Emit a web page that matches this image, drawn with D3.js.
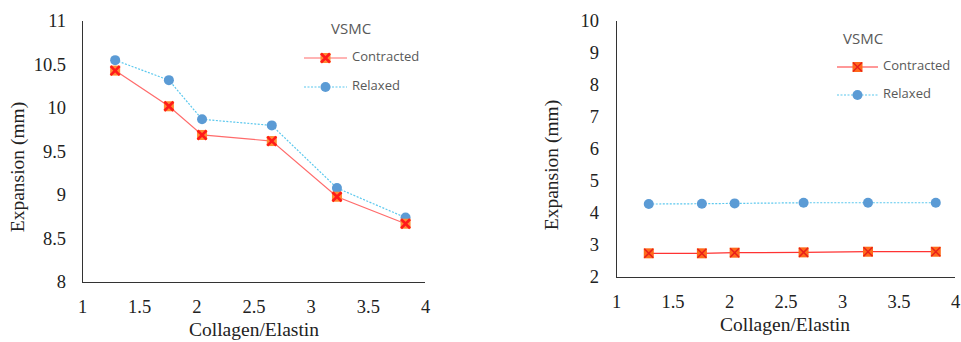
<!DOCTYPE html>
<html>
<head>
<meta charset="utf-8">
<script src="https://cdn.jsdelivr.net/npm/d3@7"></script>
<style>
  body { margin: 0; background: #fff; }
  svg { display: block; }
</style>
</head>
<body>
<svg id="chart" width="961" height="342"></svg>
<script>
// ratio values shared by both panels
const ratios = [1.29, 1.76, 2.05, 2.66, 3.23, 3.83];

// left panel
const contractedA = [10.43, 10.02, 9.69, 9.62, 8.98, 8.67];
const relaxedA    = [10.55, 10.32, 9.87, 9.80, 9.08, 8.74];
const yTicksA     = [8, 8.5, 9, 9.5, 10, 10.5, 11];

// right panel
const contractedB = [2.74, 2.74, 2.76, 2.77, 2.79, 2.79];
const relaxedB    = [4.28, 4.29, 4.30, 4.32, 4.32, 4.32];
const yTicksB     = [2, 3, 4, 5, 6, 7, 8, 9, 10];

const xTicks = [1, 1.5, 2, 2.5, 3, 3.5, 4];
const seriesNames = ['Contracted', 'Relaxed'];

const svg = d3.select('#chart');
const serif = '"Liberation Serif", "DejaVu Serif", serif';
const sans = '"Open Sans", "Noto Sans", sans-serif';

function panel(o) {
    const g = svg.append('g');
    const x = d3.scaleLinear().domain([1, 4]).range([o.left, o.right]);
    const y = d3.scaleLinear().domain(o.yDomain).range([o.bottom, o.top]);

    // axes, no tick marks
    g.append('g')
        .attr('transform', `translate(0,${o.bottom})`)
        .call(d3.axisBottom(x).tickValues(xTicks).tickSize(0).tickPadding(o.xPad).tickFormat(d3.format('')))
        .call(a => a.select('.domain').attr('stroke', '#333').attr('d', `M${o.left},0.5H${o.right}`))
        .call(a => a.selectAll('text').attr('font-family', serif).attr('font-size', 18.5).attr('fill', '#222'));

    g.append('g')
        .attr('transform', `translate(${o.left},0)`)
        .call(d3.axisLeft(y).tickValues(o.yTicks).tickSize(0).tickPadding(o.yPad).tickFormat(d3.format('')))
        .call(a => a.select('.domain').attr('stroke', '#333').attr('d', `M0.5,${o.bottom}V${o.top}`))
        .call(a => a.selectAll('text').attr('font-family', serif).attr('font-size', 18.5).attr('fill', '#222'));

    const line = d3.line().x(d => x(d[0])).y(d => y(d[1]));
    const cData = ratios.map((r, i) => [r, o.contracted[i]]);
    const rData = ratios.map((r, i) => [r, o.relaxed[i]]);

    g.append('path').datum(rData).attr('d', line)
        .attr('fill', 'none').attr('stroke', '#5bc8ee').attr('stroke-width', 1.2).attr('stroke-dasharray', '2,1.5');
    g.append('path').datum(cData).attr('d', line)
        .attr('fill', 'none').attr('stroke', o.redLine).attr('stroke-width', 1.2);

    const crossMark = (sel, cx, cy) => {
        sel.append('rect').attr('x', cx - 5).attr('y', cy - 5).attr('width', 10).attr('height', 10)
            .attr('fill', o.markFill);
        sel.append('path')
            .attr('d', `M${cx - 4.5},${cy - 4.5}L${cx + 4.5},${cy + 4.5}M${cx + 4.5},${cy - 4.5}L${cx - 4.5},${cy + 4.5}`)
            .attr('stroke', o.markCross).attr('stroke-width', o.crossW);
    };

    rData.forEach(d => {
        g.append('circle').attr('cx', x(d[0])).attr('cy', y(d[1])).attr('r', 5).attr('fill', '#5b9bd5');
    });
    cData.forEach(d => crossMark(g, x(d[0]), y(d[1])));

    // axis titles
    g.append('text')
        .attr('transform', `translate(${o.yTitle[0]},${o.yTitle[1]}) rotate(-90)`)
        .attr('text-anchor', 'middle').attr('dominant-baseline', 'middle')
        .attr('font-family', serif).attr('font-size', 19.5).attr('fill', '#222')
        .text('Expansion (mm)');
    g.append('text')
        .attr('x', o.xTitle[0]).attr('y', o.xTitle[1])
        .attr('text-anchor', 'middle').attr('dominant-baseline', 'middle')
        .attr('font-family', serif).attr('font-size', 19.5).attr('fill', '#222')
        .text('Collagen/Elastin');

    // legend
    const L = o.legend;
    g.append('text').attr('x', L.titleX).attr('y', L.titleY)
        .attr('dominant-baseline', 'middle').attr('font-family', sans).attr('font-size', 15).attr('fill', '#595959')
        .text('VSMC');
    seriesNames.forEach((name, i) => {
        const ly = L.y0 + i * L.gap;
        const mid = (L.x0 + L.x1) / 2;
        g.append('line').attr('x1', L.x0).attr('x2', L.x1).attr('y1', ly).attr('y2', ly)
            .attr('stroke', i === 0 ? o.redLine : '#5bc8ee').attr('stroke-width', 1.2)
            .attr('stroke-dasharray', i === 0 ? null : '2,1.5');
        if (i === 0) crossMark(g, mid, ly);
        else g.append('circle').attr('cx', mid).attr('cy', ly).attr('r', 5).attr('fill', '#5b9bd5');
        g.append('text').attr('x', L.x1 + 5).attr('y', ly)
            .attr('dominant-baseline', 'middle').attr('font-family', sans).attr('font-size', 13).attr('fill', '#595959')
            .text(name);
    });
}

panel({
    left: 82, right: 425, top: 21, bottom: 282,
    yDomain: [8, 11], yTicks: yTicksA,
    contracted: contractedA, relaxed: relaxedA,
    xPad: 18, yPad: 16,
    redLine: '#ff6b6b', markFill: '#ff8c33', markCross: '#ff1a1a', crossW: 2.6,
    yTitle: [20, 167], xTitle: [254, 332],
    legend: { titleX: 331, titleY: 30, x0: 304, x1: 347, y0: 58, gap: 29 }
});

panel({
    left: 616, right: 955, top: 21, bottom: 277,
    yDomain: [2, 10], yTicks: yTicksB,
    contracted: contractedB, relaxed: relaxedB,
    xPad: 18, yPad: 17,
    redLine: '#ff3333', markFill: '#ff6a1a', markCross: '#e8201a', crossW: 1.5,
    yTitle: [554, 165], xTitle: [785, 327],
    legend: { titleX: 843, titleY: 40, x0: 837, x1: 878, y0: 67, gap: 28 }
});
</script>
</body>
</html>
